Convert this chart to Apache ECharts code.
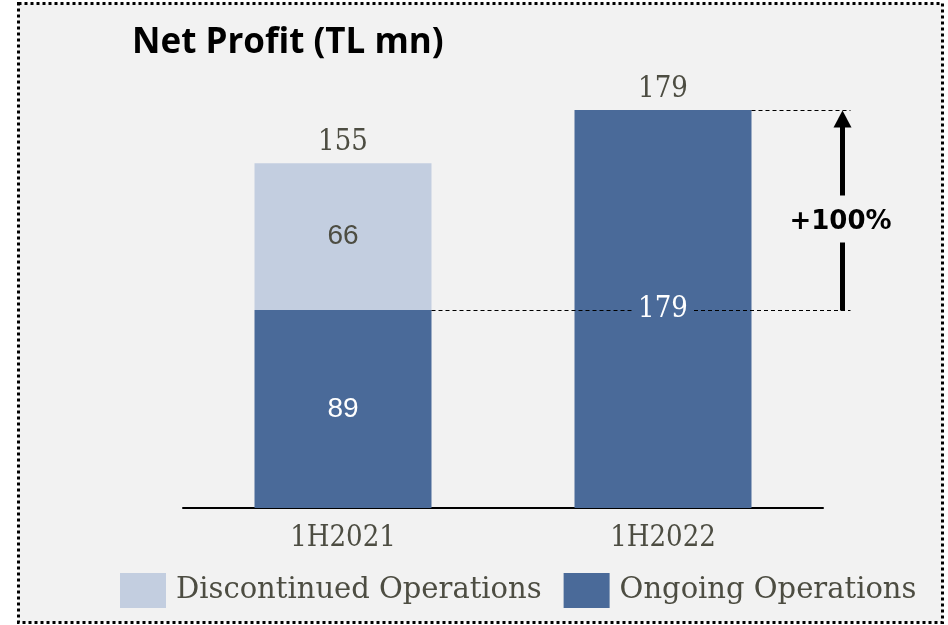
<!DOCTYPE html>
<html>
<head>
<meta charset="utf-8">
<script src="https://cdn.jsdelivr.net/npm/echarts@6/dist/echarts.min.js"></script>
<style>
html, body { margin: 0; padding: 0; background: #fff; }
#chart { width: 948px; height: 625px; }
</style>
</head>
<body>
<div id="chart"></div>
<script>
// chart data
const categories = ['1H2021', '1H2022']
const ongoing = [89, 179]
const discontinued = [66, 0]
const totals = [155, 179]
const growthLabel = '+100%'

const DARK = '#4a6a99'
const LIGHT = '#c3cee0'
const TEXT = '#4d4d42'
const SERIF_N = '"DejaVu Serif Condensed", "DejaVu Serif", serif'
const SERIF = '"DejaVu Serif", serif'
const SANS = '"Liberation Sans", Arial, sans-serif'
const BAR_W = 177

const chart = echarts.init(document.getElementById('chart'))

chart.setOption({
  backgroundColor: '#fff',
  animation: false,
  title: {
    text: 'Net Profit (TL mn)',
    left: 132,
    top: 26,
    padding: 0,
    textStyle: { fontFamily: '"Open Sans"', fontWeight: 'bold', fontSize: 35, color: '#000' }
  },
  legend: {
    data: ['Discontinued Operations', 'Ongoing Operations'],
    left: 120,
    top: 573,
    padding: 0,
    itemWidth: 46,
    itemHeight: 35,
    itemGap: 22,
    icon: 'rect',
    textStyle: { fontFamily: SERIF, fontSize: 29, color: TEXT, padding: [0, 0, 0, 5] }
  },
  grid: { left: 183, right: 125, top: 110, bottom: 117 },
  xAxis: {
    type: 'category',
    data: categories,
    axisLine: { lineStyle: { color: '#000', width: 2 } },
    axisTick: { show: false },
    axisLabel: { fontFamily: SERIF_N, fontSize: 29, color: TEXT, margin: 16 }
  },
  yAxis: { type: 'value', min: 0, max: 179, show: false },
  series: [
    {
      name: 'Ongoing Operations',
      type: 'bar',
      stack: 'np',
      barWidth: BAR_W,
      itemStyle: { color: DARK },
      label: { show: true, position: 'inside', color: '#fff', fontSize: 28 },
      data: ongoing.map((v, i) => ({
        value: v,
        label: i === 0 ? { fontFamily: SANS } : { fontFamily: SERIF_N, fontSize: 29 }
      }))
    },
    {
      name: 'Discontinued Operations',
      type: 'bar',
      stack: 'np',
      barWidth: BAR_W,
      itemStyle: { color: LIGHT },
      label: { show: true, position: 'inside', color: TEXT, fontFamily: SANS, fontSize: 28 },
      data: discontinued.map(v => ({ value: v, label: { show: v > 0 } }))
    },
    {
      name: 'total',
      type: 'scatter',
      symbolSize: 1,
      itemStyle: { color: 'rgba(0,0,0,0)', opacity: 1 },
      label: { show: true, position: 'top', distance: 6, color: TEXT, opacity: 1, fontFamily: SERIF_N, fontSize: 29 },
      data: totals
    }
  ]
})

// annotation: dashed guides + growth arrow, placed through the axes
const yLow = Math.round(chart.convertToPixel({ yAxisIndex: 0 }, ongoing[0])) + 0.5
const yHigh = Math.round(chart.convertToPixel({ yAxisIndex: 0 }, totals[1])) + 0.5
const x0 = chart.convertToPixel({ xAxisIndex: 0 }, categories[0])
const x1 = chart.convertToPixel({ xAxisIndex: 0 }, categories[1])
const half = BAR_W / 2
const dashEnd = x1 + half + 99
const arrowX = x1 + half + 91
const textY = (yLow + yHigh) / 2 + 12
const dash = { stroke: '#000', lineWidth: 1, lineDash: [4, 3] }

chart.setOption({
  graphic: [
    {
      type: 'rect', z: -10,
      shape: { x: 18.5, y: 3.5, width: 924, height: 619 },
      style: { fill: '#f2f2f2', stroke: '#000', lineWidth: 3, lineDash: [3, 3] }
    },
    { type: 'line', z: 50, shape: { x1: x0 + half, y1: yLow, x2: x1 - 31, y2: yLow }, style: dash },
    { type: 'line', z: 50, shape: { x1: x1 + 31, y1: yLow, x2: dashEnd, y2: yLow }, style: dash },
    { type: 'line', z: 50, shape: { x1: x1 + half, y1: yHigh, x2: dashEnd, y2: yHigh }, style: dash },
    {
      type: 'line', z: 50,
      shape: { x1: arrowX, y1: yHigh + 16, x2: arrowX, y2: textY - 27 },
      style: { stroke: '#000', lineWidth: 5 }
    },
    {
      type: 'line', z: 50,
      shape: { x1: arrowX, y1: textY + 20, x2: arrowX, y2: yLow },
      style: { stroke: '#000', lineWidth: 5 }
    },
    {
      type: 'polygon', z: 50,
      shape: { points: [[arrowX, yHigh], [arrowX - 9, yHigh + 17], [arrowX + 9, yHigh + 17]] },
      style: { fill: '#000' }
    },
    {
      type: 'text', z: 50,
      x: arrowX - 2, y: textY,
      style: {
        text: growthLabel, fill: '#000',
        font: 'bold 26px "DejaVu Sans", sans-serif',
        align: 'center', verticalAlign: 'middle'
      }
    }
  ]
})
</script>
</body>
</html>
